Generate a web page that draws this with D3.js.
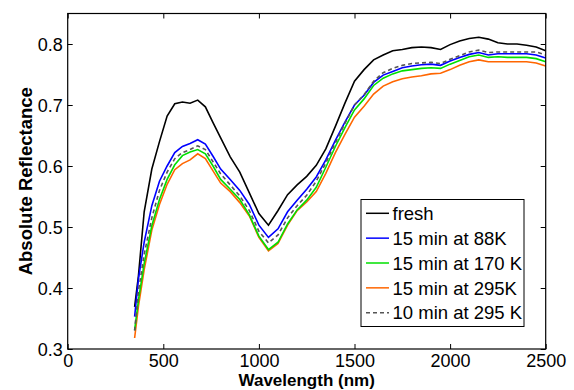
<!DOCTYPE html>
<html>
<head>
<meta charset="utf-8">
<script src="https://cdn.jsdelivr.net/npm/d3@7"></script>
<style>
  body { margin: 0; background: #fff; }
  svg text { font-family: "Liberation Sans", Arial, Helvetica, sans-serif; fill: #000; }
</style>
</head>
<body>
<div id="chart"></div>
<script>
// wavelengths (nm)
var wavelength = [350, 370, 400, 440, 480, 520, 560, 600, 640, 680, 720, 760, 800, 850, 900, 950,
  1000, 1050, 1100, 1150, 1200, 1250, 1300, 1350, 1400, 1450, 1500, 1550, 1600, 1650, 1700, 1750,
  1800, 1850, 1900, 1950, 2000, 2050, 2100, 2150, 2200, 2250, 2300, 2350, 2400, 2450, 2500];

var fresh = [0.369, 0.420, 0.525, 0.595, 0.640, 0.682, 0.702, 0.705, 0.703, 0.708, 0.697, 0.671, 0.646, 0.615, 0.590, 0.556,
  0.522, 0.503, 0.527, 0.553, 0.569, 0.583, 0.601, 0.628, 0.665, 0.703, 0.739, 0.758, 0.774, 0.782, 0.789, 0.791,
  0.794, 0.795, 0.794, 0.791, 0.799, 0.805, 0.809, 0.811, 0.808, 0.802, 0.800, 0.800, 0.798, 0.795, 0.789];

var k88 = [0.353, 0.415, 0.475, 0.535, 0.575, 0.600, 0.622, 0.632, 0.637, 0.643, 0.636, 0.616, 0.595, 0.578, 0.560, 0.537,
  0.503, 0.483, 0.497, 0.525, 0.544, 0.562, 0.582, 0.610, 0.642, 0.672, 0.700, 0.716, 0.737, 0.749, 0.755, 0.761,
  0.764, 0.766, 0.767, 0.765, 0.772, 0.778, 0.783, 0.786, 0.782, 0.784, 0.784, 0.784, 0.784, 0.782, 0.777];

var k170 = [0.331, 0.380, 0.440, 0.502, 0.545, 0.578, 0.602, 0.617, 0.623, 0.627, 0.620, 0.600, 0.578, 0.562, 0.545, 0.520,
  0.485, 0.463, 0.475, 0.505, 0.528, 0.544, 0.565, 0.598, 0.632, 0.663, 0.692, 0.710, 0.732, 0.744, 0.751, 0.756,
  0.758, 0.760, 0.761, 0.760, 0.767, 0.773, 0.779, 0.782, 0.778, 0.779, 0.778, 0.778, 0.778, 0.776, 0.771];

var k295 = [0.318, 0.370, 0.430, 0.495, 0.537, 0.570, 0.594, 0.604, 0.610, 0.620, 0.612, 0.592, 0.572, 0.558, 0.540, 0.518,
  0.483, 0.461, 0.473, 0.503, 0.527, 0.541, 0.558, 0.588, 0.622, 0.652, 0.680, 0.698, 0.718, 0.731, 0.738, 0.743,
  0.746, 0.748, 0.751, 0.752, 0.758, 0.765, 0.771, 0.774, 0.771, 0.771, 0.771, 0.771, 0.771, 0.769, 0.764];

var k295_10 = [0.330, 0.395, 0.455, 0.515, 0.560, 0.590, 0.612, 0.622, 0.627, 0.633, 0.627, 0.607, 0.587, 0.569, 0.551, 0.527,
  0.493, 0.474, 0.487, 0.515, 0.535, 0.552, 0.575, 0.605, 0.638, 0.670, 0.700, 0.717, 0.739, 0.753, 0.760, 0.765,
  0.768, 0.769, 0.770, 0.768, 0.775, 0.781, 0.787, 0.790, 0.786, 0.787, 0.787, 0.787, 0.787, 0.787, 0.782];

var seriesNames = ["fresh", "15 min at 88K", "15 min at 170 K", "15 min at 295K", "10 min at 295 K"];
var xTicks = [0, 500, 1000, 1500, 2000, 2500];
var yTicks = [0.3, 0.4, 0.5, 0.6, 0.7, 0.8];

var series = [
  { name: seriesNames[0], values: fresh, color: "#000000", dash: null },
  { name: seriesNames[1], values: k88, color: "#0000ff", dash: null },
  { name: seriesNames[2], values: k170, color: "#00e000", dash: null },
  { name: seriesNames[3], values: k295, color: "#ff6600", dash: null },
  { name: seriesNames[4], values: k295_10, color: "#555555", dash: "4,3" }
];

var width = 574, height = 390;
var margin = { top: 13.5, right: 28.3, bottom: 41, left: 67.7 };
var w = width - margin.left - margin.right,
    h = height - margin.top - margin.bottom;

var svg = d3.select("#chart").append("svg")
    .attr("width", width)
    .attr("height", height);

var g = svg.append("g").attr("transform", "translate(" + margin.left + "," + margin.top + ")");

var x = d3.scaleLinear().domain([0, 2500]).range([0, w]);
var y = d3.scaleLinear().domain([0.3, 0.85]).range([h, 0]);

g.append("clipPath").attr("id", "clip")
  .append("rect").attr("width", w).attr("height", h);

var line = d3.line()
    .x(function(d) { return x(d[0]); })
    .y(function(d) { return y(d[1]); });

// draw order: keep dashed on top like the original
var drawOrder = [0, 3, 2, 1, 4];
drawOrder.forEach(function(i) {
  var s = series[i];
  g.append("path")
    .datum(wavelength.map(function(wl, j) { return [wl, s.values[j]]; }))
    .attr("clip-path", "url(#clip)")
    .attr("d", line)
    .attr("fill", "none")
    .attr("stroke", s.color)
    .attr("stroke-width", 1.6)
    .attr("stroke-dasharray", s.dash);
});

// axes (matlab style box, inward ticks)
var xAxis = g.append("g").attr("transform", "translate(0," + h + ")")
  .call(d3.axisBottom(x).tickValues(xTicks).tickSizeInner(-5).tickSizeOuter(0).tickPadding(5)
    .tickFormat(d3.format("d")));
var yAxis = g.append("g")
  .call(d3.axisLeft(y).tickValues(yTicks).tickSizeInner(-5).tickSizeOuter(0).tickPadding(5)
    .tickFormat(d3.format(".1f")));
var xTop = g.append("g")
  .call(d3.axisTop(x).tickValues(xTicks).tickSizeInner(-5).tickSizeOuter(0).tickFormat(""));
var yRight = g.append("g").attr("transform", "translate(" + w + ",0)")
  .call(d3.axisRight(y).tickValues(yTicks).tickSizeInner(-5).tickSizeOuter(0).tickFormat(""));

[xAxis, yAxis, xTop, yRight].forEach(function(a) {
  a.select(".domain").remove();
  a.selectAll("line").attr("stroke", "#000");
  a.selectAll("text").style("font-size", "18px")
    .style("font-family", "'Liberation Sans', Arial, Helvetica, sans-serif");
});
yAxis.selectAll("text").attr("dy", "0.36em");

g.append("rect")
  .attr("width", w).attr("height", h)
  .attr("fill", "none").attr("stroke", "#000").attr("stroke-width", 1.2);

// axis titles
svg.append("text")
  .attr("x", margin.left + w / 2)
  .attr("y", 386)
  .attr("text-anchor", "middle")
  .style("font-size", "17px").style("font-weight", "bold")
  .text("Wavelength (nm)");

svg.append("text")
  .attr("transform", "translate(32," + (margin.top + h / 2) + ") rotate(-90)")
  .attr("text-anchor", "middle")
  .style("font-size", "18.5px").style("font-weight", "bold")
  .text("Absolute Reflectance");

// legend
var legend = svg.append("g").attr("transform", "translate(361,199.5)");
legend.append("rect")
  .attr("width", 163).attr("height", 127)
  .attr("fill", "#fff").attr("stroke", "#000").attr("stroke-width", 1);

series.forEach(function(s, i) {
  var row = legend.append("g").attr("transform", "translate(0," + (13.8 + i * 24.85) + ")");
  row.append("line")
    .attr("x1", 5).attr("x2", 28)
    .attr("stroke", s.color)
    .attr("stroke-width", 1.5)
    .attr("stroke-dasharray", s.dash);
  row.append("text")
    .attr("x", 31.5).attr("y", 6.7)
    .style("font-size", "18.5px")
    .text(s.name);
});
</script>
</body>
</html>
